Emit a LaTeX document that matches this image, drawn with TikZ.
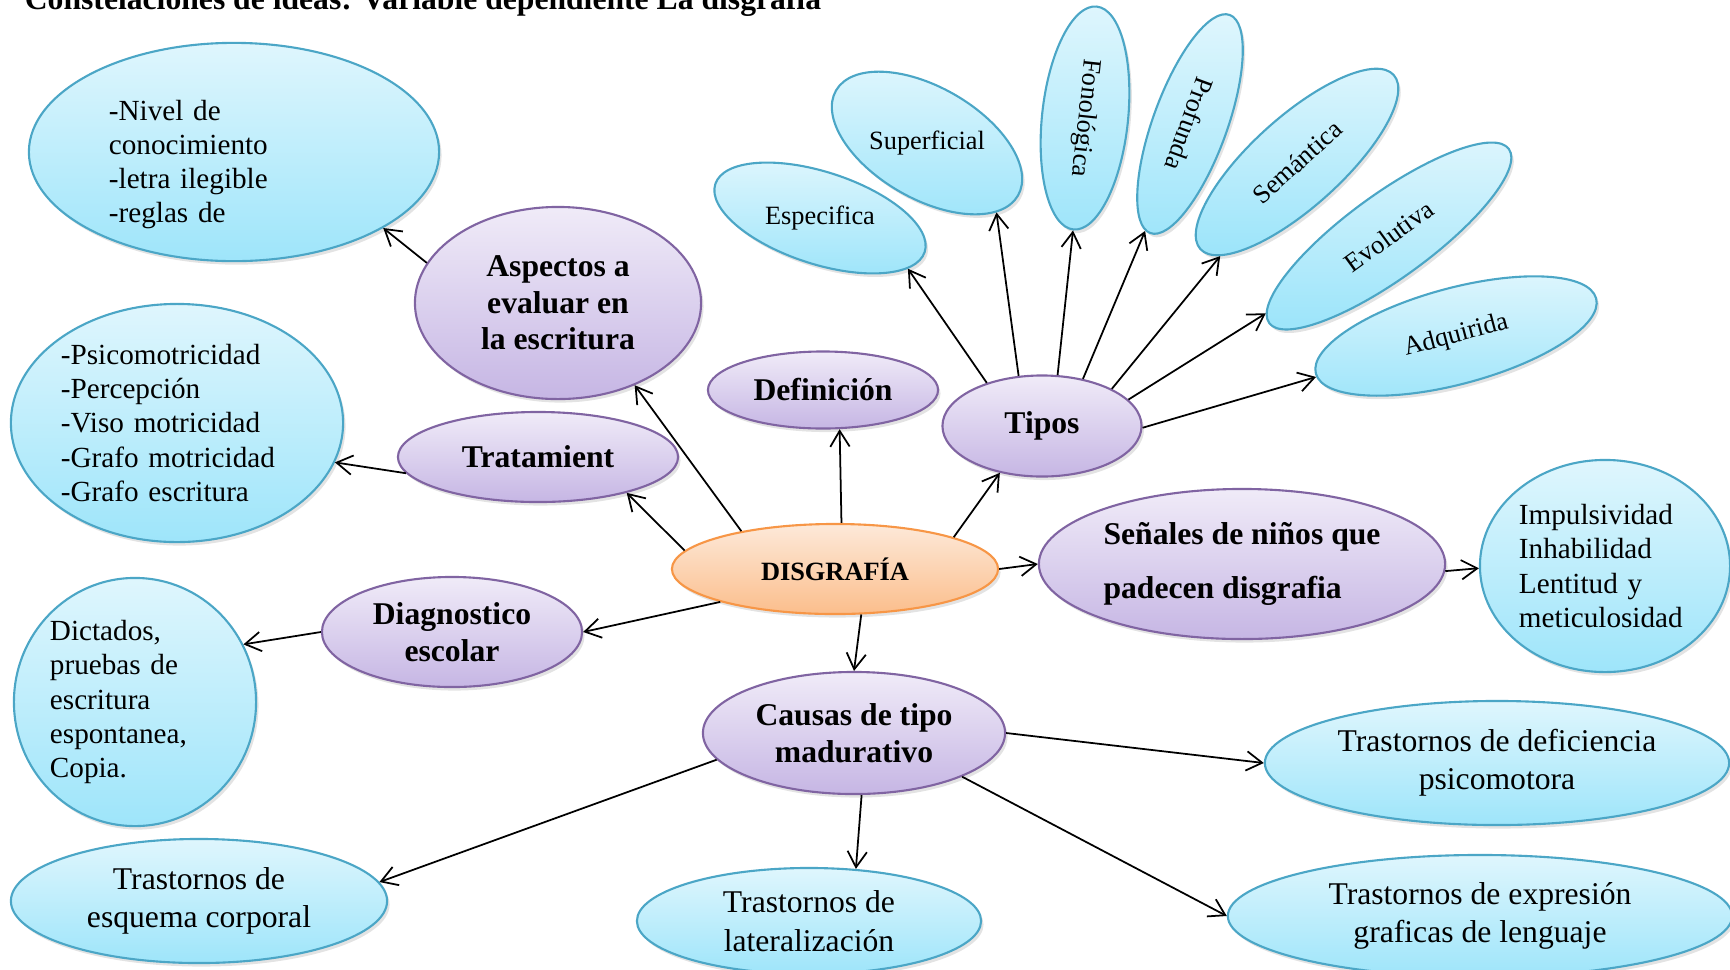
\documentclass[tikz,border=0pt]{standalone}
\usepackage{fontspec}
\setmainfont{Liberation Serif}
\usetikzlibrary{shapes.geometric,arrows.meta,shadows}

\definecolor{azulborde}{RGB}{75,166,198}
\definecolor{azularriba}{RGB}{223,246,253}
\definecolor{azulabajo}{RGB}{158,229,250}
\definecolor{moradoborde}{RGB}{128,100,162}
\definecolor{moradoarriba}{RGB}{240,235,248}
\definecolor{moradoabajo}{RGB}{198,182,228}
\definecolor{naranjaborde}{RGB}{247,150,70}
\definecolor{naranjaarriba}{RGB}{253,233,217}
\definecolor{naranjaabajo}{RGB}{251,190,140}

\begin{document}
\begin{tikzpicture}[x=0.01cm, y=-0.01cm, line width=0.5pt,
    >={Straight Barb[length=4.5pt,width=5.5pt]},
    burbuja/.style = {ellipse, inner sep=0pt, line width=0.6pt, drop shadow={opacity=0.22, shadow xshift=0.7pt, shadow yshift=-1pt}},
    hoja/.style = {burbuja, draw=azulborde, top color=azularriba, bottom color=azulabajo},
    rama/.style = {burbuja, draw=moradoborde, top color=moradoarriba, bottom color=moradoabajo, align=center, font=\bfseries\fontsize{9}{10.4}\selectfont},
    raiz/.style = {burbuja, draw=naranjaborde, top color=naranjaarriba, bottom color=naranjaabajo, font=\bfseries\fontsize{7.5}{9}\selectfont},
    lista/.style = {hoja, align=left, font=\fontsize{8.3}{9.7}\selectfont},
    causa/.style = {hoja, align=center, font=\fontsize{9}{10.9}\selectfont},
    tipo/.style = {hoja, font=\fontsize{7.5}{9}\selectfont}]
        \useasboundingbox (0,0) rectangle (1730,969);

        \node[anchor=base west, inner sep=0pt, font=\bfseries\fontsize{9}{10}\selectfont] (0) at (24,9) {Constelaciones de ideas: Variable dependiente La disgrafía};

        \node[raiz, minimum width=3.26cm, minimum height=0.90cm] (1) at (835,569) {DISGRAFÍA};
        \node[rama, minimum width=2.86cm, minimum height=1.92cm] (2) at (558,303) {Aspectos a\\evaluar en\\la escritura};
        \node[lista, minimum width=4.10cm, minimum height=2.14cm, text width=2.50cm] (3) at (234,152) {\rule{0pt}{13pt}-Nivel de\\conocimiento\\-letra ilegible\\-reglas de};
        \node[rama, minimum width=2.80cm, minimum height=0.90cm] (4) at (538,457) {Tratamient};
        \node[lista, minimum width=3.32cm, minimum height=2.38cm, text width=2.32cm] (5) at (177,423) {-Psicomotricidad\\-Percepción\\-Viso motricidad\\-Grafo motricidad\\-Grafo escritura};
        \node[rama, minimum width=2.30cm, minimum height=0.77cm] (6) at (823,390) {Definición};
        \node[rama, minimum width=1.99cm, minimum height=1.01cm] (7) at (1042,426) {Tipos};

        \node[tipo, rotate=-18, minimum width=2.20cm, minimum height=0.92cm] (8) at (820,218) {\rotatebox{18}{Especifica}};
        \node[tipo, rotate=-30, minimum width=2.10cm, minimum height=0.96cm] (9) at (927,143) {\rotatebox{30}{Superficial}};
        \node[tipo, rotate=-96, minimum width=2.24cm, minimum height=0.86cm] (10) at (1085,118) {Fonológica};
        \node[tipo, rotate=-110, minimum width=2.32cm, minimum height=0.74cm] (11) at (1190,124) {Profunda};
        \node[tipo, rotate=42, minimum width=2.60cm, minimum height=0.90cm] (12) at (1297,162) {Semántica};
        \node[tipo, rotate=36, minimum width=2.96cm, minimum height=0.84cm] (13) at (1389,236) {Evolutiva};
        \node[tipo, rotate=15, minimum width=2.90cm, minimum height=0.96cm] (14) at (1456,336) {Adquirida};

        \node[rama, minimum width=4.06cm, minimum height=1.50cm, align=left, font=\bfseries\fontsize{9}{15.4}\selectfont] (15) at (1242,564) {Señales de niños que\\padecen disgrafia};
        \node[lista, minimum width=2.50cm, minimum height=2.12cm, text width=1.72cm] (16) at (1605,566) {Impulsividad\\Inhabilidad\\Lentitud y\\meticulosidad};
        \node[rama, minimum width=2.60cm, minimum height=1.10cm] (17) at (452,632) {Diagnostico\\escolar};
        \node[lista, minimum width=2.42cm, minimum height=2.48cm, text width=1.70cm] (18) at (135,702) {Dictados,\\pruebas de\\escritura\\espontanea,\\Copia.};
        \node[rama, minimum width=3.02cm, minimum height=1.22cm] (19) at (854,733) {Causas de tipo\\madurativo};
        \node[causa, minimum width=4.64cm, minimum height=1.24cm] (20) at (1497,763) {Trastornos de deficiencia\\psicomotora};
        \node[causa, minimum width=3.76cm, minimum height=1.24cm] (21) at (199,901) {Trastornos de\\esquema corporal};
        \node[causa, minimum width=3.44cm, minimum height=1.06cm] (22) at (809,921) {Trastornos de\\lateralización};
        \node[causa, minimum width=5.04cm, minimum height=1.22cm] (23) at (1480,916) {Trastornos de expresión\\graficas de lenguaje};

        \draw[->] (1.158) -- (2.-47);
        \draw[->] (2.163) -- (3.-27);
        \draw[->] (1.173) -- (4.-22);
        \draw[->] (4.187) -- (5.-14);
        \draw[->] (1.82) -- (6.-67);
        \draw[->] (1.15) -- (7.228);
        \draw[->] (7.142) -- (8.-12);
        \draw[->] (7.115) -- (9.-15);
        \draw[->] (7.73) -- (10);
        \draw[->] (7.49) -- (11);
        \draw[->] (7.28) -- (12);
        \draw[->] (7.17) -- (13);
        \draw[->] (7.-1) -- (14);
        \draw[->] (1.0) -- (15.180);
        \draw[->] (15.-2) -- (16.181);
        \draw[->] (1.196) -- (17.0);
        \draw[->] (17.180) -- (18.28);
        \draw[->] (1.-60) -- (19.90);
        \draw[->] (19.0) -- (20.180);
        \draw[->] (19.191) -- (21.6);
        \draw[->] (19.-83) -- (22.48);
        \draw[->] (19.-22) -- (23.180);

    \end{tikzpicture}
\end{document}
